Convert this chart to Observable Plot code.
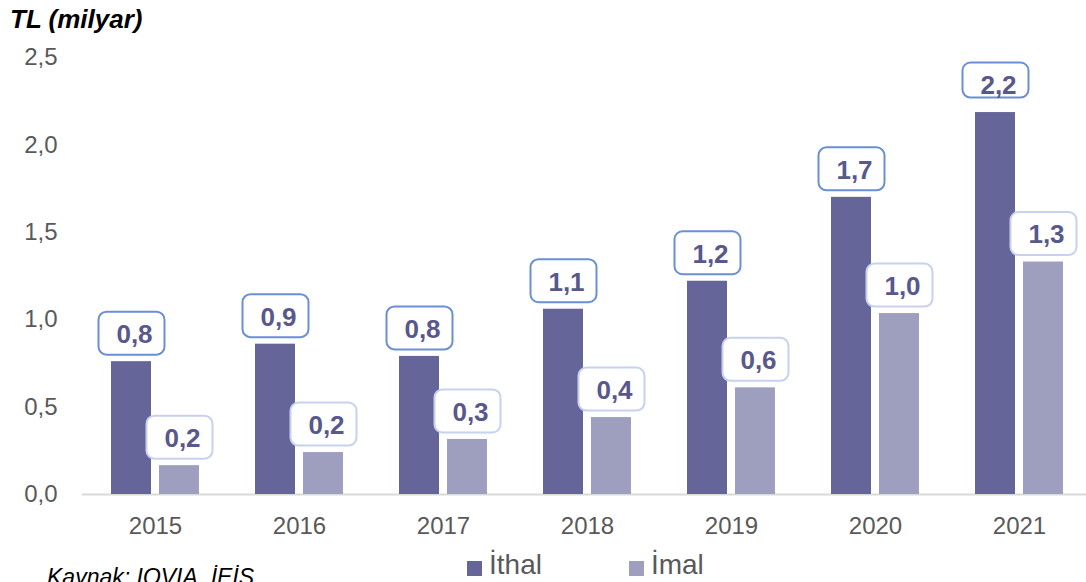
<!DOCTYPE html>
<html>
<head>
<meta charset="utf-8">
<script src="https://cdn.jsdelivr.net/npm/d3@7"></script>
<script src="https://cdn.jsdelivr.net/npm/@observablehq/plot@0.6"></script>
<style>
  html, body { margin: 0; padding: 0; background: #fff; }
  #wrap { position: relative; width: 1086px; height: 582px; overflow: hidden; font-family: "Liberation Sans", Arial, sans-serif; }
  #title { position: absolute; left: 10px; top: 4px; font-size: 26px; font-weight: bold; font-style: italic; color: #000; white-space: nowrap; }
  #chart { position: absolute; left: 0; top: 0; }
  #legend { position: absolute; left: 467px; top: 549px; font-size: 28px; color: #595959; white-space: nowrap; display: flex; align-items: center; }
  #legend .sw { display: inline-block; width: 15px; height: 15px; margin-right: 7px; position: relative; top: 3px; }
  #legend .item { display: inline-flex; align-items: center; }
  #caption { position: absolute; left: 47px; top: 564px; font-size: 23px; font-style: italic; color: #000; white-space: nowrap; }
</style>
</head>
<body>
<div id="wrap">
  <div id="chart"></div>
  <div id="title">TL (milyar)</div>
  <div id="legend"></div>
  <div id="caption">Kaynak: IQVIA, İEİS</div>
</div>
<script>
// ---- data ----
const years = ["2015", "2016", "2017", "2018", "2019", "2020", "2021"];
const seriesNames = ["İthal", "İmal"];
const ithal = [0.76, 0.86, 0.79, 1.06, 1.22, 1.70, 2.185];
const imal = [0.165, 0.24, 0.315, 0.44, 0.61, 1.035, 1.33];
const ithalLabels = ["0,8", "0,9", "0,8", "1,1", "1,2", "1,7", "2,2"];
const imalLabels = ["0,2", "0,2", "0,3", "0,4", "0,6", "1,0", "1,3"];
const yTicks = [0, 0.5, 1.0, 1.5, 2.0, 2.5];

// ---- styles ----
const colors = {"İthal": "#65659A", "İmal": "#9E9EBF"};
const boxStroke = {"İthal": "#6A8FD6", "İmal": "#C8D2EE"};
const labelColor = "#58588C";
const font = "'Liberation Sans', Arial, sans-serif";

const rows = [];
years.forEach((y, i) => {
  rows.push({year: y, series: "İthal", value: ithal[i], label: ithalLabels[i]});
  rows.push({year: y, series: "İmal", value: imal[i], label: imalLabels[i]});
});

const W = 1086, H = 545, mTop = 57, mBottom = 51, mLeft = 82;
const yDomain = [0, 2.5];
const yScale = Plot.scale({y: {domain: yDomain, range: [H - mBottom, mTop]}});
const labelTopLimit = 65;
const isShort = d => yScale.apply(d.value) - 50 < labelTopLimit;

function roundBox(w, h, r) {
  return {
    draw(ctx) {
      const x0 = -w / 2, y0 = -h / 2, x1 = w / 2, y1 = h / 2;
      ctx.moveTo(x0 + r, y0);
      ctx.lineTo(x1 - r, y0);
      ctx.arcTo(x1, y0, x1, y0 + r, r);
      ctx.lineTo(x1, y1 - r);
      ctx.arcTo(x1, y1, x1 - r, y1, r);
      ctx.lineTo(x0 + r, y1);
      ctx.arcTo(x0, y1, x0, y1 - r, r);
      ctx.lineTo(x0, y0 + r);
      ctx.arcTo(x0, y0, x0 + r, y0, r);
      ctx.closePath();
    }
  };
}
const boxNormal = roundBox(66, 43, 8);
const boxShort = roundBox(66, 35, 8);

const marks = [
  Plot.ruleY([0], {stroke: "#D9D9D9", strokeWidth: 2}),
  Plot.axisY({ticks: yTicks, tickFormat: d => d.toFixed(1).replace(".", ","), tickSize: 0, tickPadding: 25, label: null, fontSize: 24}),
  Plot.axisX({tickSize: 0, tickPadding: 22, label: null, fontSize: 24}),
  Plot.barY(rows.filter(d => d.series === "İthal"), {x: "year", y: "value", fill: colors["İthal"], insetLeft: 0, insetRight: 48}),
  Plot.barY(rows.filter(d => d.series === "İmal"), {x: "year", y: "value", fill: colors["İmal"], insetLeft: 48, insetRight: 0})
];
for (const s of seriesNames) {
  const off = s === "İthal" ? -24 : 24;
  const data = rows.filter(d => d.series === s);
  marks.push(Plot.dot(data.filter(d => !isShort(d)), {x: "year", y: "value", dx: off, dy: -28.5, symbol: boxNormal, fill: "white", stroke: boxStroke[s], strokeWidth: 2}));
  marks.push(Plot.dot(data.filter(d => isShort(d)), {x: "year", y: "value", dx: off, dy: -32.5, symbol: boxShort, fill: "white", stroke: boxStroke[s], strokeWidth: 2}));
  marks.push(Plot.text(data, {x: "year", y: "value", text: "label", dx: off + 3, dy: -27, fill: labelColor, fontSize: 26, fontWeight: "bold"}));
}

const chart = Plot.plot({
  width: W,
  height: H,
  marginTop: mTop,
  marginBottom: mBottom,
  marginLeft: mLeft,
  marginRight: 0,
  style: {fontFamily: font, fontSize: "24px", color: "#595959", background: "transparent", overflow: "visible"},
  x: {domain: years, range: [81.3, 1091.7], paddingInner: 0.39, paddingOuter: 0.195},
  y: {domain: yDomain},
  marks
});
document.getElementById("chart").appendChild(chart);

const legend = document.getElementById("legend");
seriesNames.forEach((s, i) => {
  const item = document.createElement("span");
  item.className = "item";
  if (i > 0) item.style.marginLeft = "87px";
  const sw = document.createElement("span");
  sw.className = "sw";
  sw.style.background = colors[s];
  item.appendChild(sw);
  item.appendChild(document.createTextNode(s));
  legend.appendChild(item);
});
</script>
</body>
</html>
